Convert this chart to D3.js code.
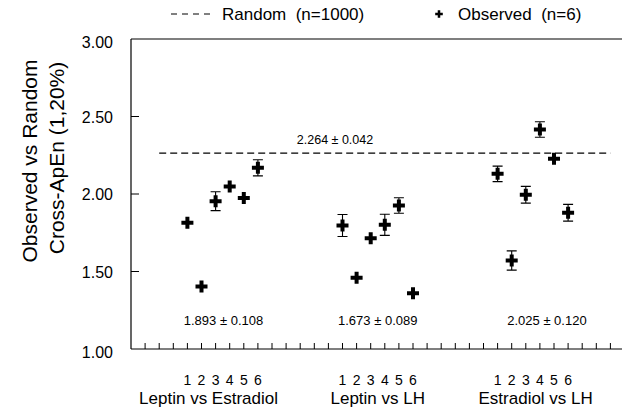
<!DOCTYPE html>
<html>
<head>
<meta charset="utf-8">
<script src="https://cdn.jsdelivr.net/npm/d3@7"></script>
<style>
  body { margin: 0; background: #fff; }
  text { font-family: "Liberation Sans", Arial, sans-serif; fill: #000; }
</style>
</head>
<body>
<div id="chart"></div>
<script>
// comparisons and subject numbers
var groups = ['Leptin vs Estradiol', 'Leptin vs LH', 'Estradiol vs LH'];
var subjects = ['1', '2', '3', '4', '5', '6'];
var groupStart = [4, 15, 26];

// observed cross-ApEn per subject, and its sd (0 = hidden under the marker)
var observed = [
  [1.814, 1.403, 1.954, 2.048, 1.975, 2.169],
  [1.797, 1.459, 1.715, 1.801, 1.926, 1.360],
  [2.130, 1.571, 1.995, 2.416, 2.227, 1.879]
];
var observedErr = [
  [0, 0, 0.061, 0, 0, 0.052],
  [0.071, 0, 0, 0.068, 0.05, 0],
  [0.05, 0.062, 0.054, 0.05, 0, 0.054]
];
var groupMeans = ['1.893 \u00b1 0.108', '1.673 \u00b1 0.089', '2.025 \u00b1 0.120'];

var randomMean = 2.264;
var randomLabel = '2.264 \u00b1 0.042';

var yTicks = [1.00, 1.50, 2.00, 2.50, 3.00];

var width = 622, height = 408;

var svg = d3.select('#chart')
  .append('svg')
  .attr('width', width)
  .attr('height', height);

var x = d3.scaleLinear().domain([0, 35]).range([131, 624.5]);
var y = d3.scaleLinear().domain([1, 3]).range([349, 39]);

// frame: left axis, top border, bottom axis
svg.append('line')
  .attr('x1', x(0)).attr('x2', x(0))
  .attr('y1', y(3)).attr('y2', y(1))
  .attr('stroke', '#000').attr('stroke-width', 1.2);
svg.append('line')
  .attr('x1', x(0)).attr('x2', width)
  .attr('y1', y(3)).attr('y2', y(3))
  .attr('stroke', '#000').attr('stroke-width', 1.2);
svg.append('line')
  .attr('x1', x(0)).attr('x2', width)
  .attr('y1', y(1)).attr('y2', y(1))
  .attr('stroke', '#000').attr('stroke-width', 1.2);

// y ticks (inward) and labels
svg.selectAll('.ytick')
  .data(yTicks.filter(function (d) { return d > 1 && d < 3; }))
  .enter()
  .append('line')
  .attr('x1', x(0)).attr('x2', x(0) + 8)
  .attr('y1', function (d) { return y(d); })
  .attr('y2', function (d) { return y(d); })
  .attr('stroke', '#000');

svg.selectAll('.ylab')
  .data(yTicks)
  .enter()
  .append('text')
  .attr('x', 113)
  .attr('y', function (d) { return y(d) + 6 + (d == 1 || d == 3 ? 3 : 0); })
  .attr('text-anchor', 'end')
  .style('font-size', '16px')
  .text(function (d) { return d3.format('.2f')(d); });

// x ticks along the bottom
svg.selectAll('.xtick')
  .data(d3.range(1, 35))
  .enter()
  .append('line')
  .attr('x1', function (d) { return x(d); })
  .attr('x2', function (d) { return x(d); })
  .attr('y1', y(1)).attr('y2', y(1) - 6)
  .attr('stroke', '#000');

// y title
var yTitle = svg.append('g').attr('transform', 'rotate(-90)');
yTitle.append('text')
  .attr('x', -161).attr('y', 37)
  .attr('text-anchor', 'middle')
  .style('font-size', '21px')
  .text('Observed vs Random');
yTitle.append('text')
  .attr('x', -158).attr('y', 64)
  .attr('text-anchor', 'middle')
  .style('font-size', '21px')
  .text('Cross-ApEn (1,20%)');

// random reference line
svg.append('line')
  .attr('x1', x(2)).attr('x2', x(34))
  .attr('y1', y(randomMean)).attr('y2', y(randomMean))
  .attr('stroke', '#000')
  .attr('stroke-width', 1.2)
  .attr('stroke-dasharray', '7,4');
svg.append('text')
  .attr('x', 335).attr('y', y(randomMean) - 9)
  .attr('text-anchor', 'middle')
  .style('font-size', '12.5px')
  .text(randomLabel);

// observed points
var cross = d3.symbol().type(d3.symbolCross).size(80);
var labelShift = [-1, 0, 0.2];
var meanShift = [0.06, 0, 1];

groups.forEach(function (name, gi) {
  var g = svg.append('g');
  var pts = observed[gi].map(function (v, i) {
    return { pos: groupStart[gi] + i, value: v, err: observedErr[gi][i] };
  });

  var bars = pts.filter(function (d) { return d.err > 0; });
  g.selectAll('.bar')
    .data(bars)
    .enter()
    .append('path')
    .attr('d', function (d) {
      var cx = x(d.pos), top = y(d.value + d.err), bot = y(d.value - d.err);
      return 'M' + (cx - 5) + ',' + top + 'H' + (cx + 5) +
        'M' + cx + ',' + top + 'V' + bot +
        'M' + (cx - 5) + ',' + bot + 'H' + (cx + 5);
    })
    .attr('fill', 'none')
    .attr('stroke', '#000')
    .attr('stroke-width', 1.1);

  g.selectAll('.pt')
    .data(pts)
    .enter()
    .append('path')
    .attr('d', cross)
    .attr('transform', function (d) { return 'translate(' + x(d.pos) + ',' + y(d.value) + ')'; })
    .attr('fill', '#000');

  g.selectAll('.num')
    .data(subjects)
    .enter()
    .append('text')
    .attr('x', function (d, i) { return x(groupStart[gi] + i); })
    .attr('y', 385)
    .attr('text-anchor', 'middle')
    .style('font-size', '14px')
    .text(function (d) { return d; });

  var mid = groupStart[gi] + 2.5;
  g.append('text')
    .attr('x', x(mid + labelShift[gi]))
    .attr('y', 404)
    .attr('text-anchor', 'middle')
    .style('font-size', '17px')
    .text(name);

  g.append('text')
    .attr('x', x(mid + meanShift[gi]))
    .attr('y', 325)
    .attr('text-anchor', 'middle')
    .style('font-size', '13px')
    .text(groupMeans[gi]);
});

// legend
var legend = svg.append('g');
legend.append('line')
  .attr('x1', 171).attr('x2', 213)
  .attr('y1', 14).attr('y2', 14)
  .attr('stroke', '#000')
  .attr('stroke-dasharray', '6,5');
legend.append('text')
  .attr('x', 222).attr('y', 20)
  .attr('xml:space', 'preserve')
  .style('font-size', '17px')
  .style('white-space', 'pre')
  .text('Random  (n=1000)');
legend.append('path')
  .attr('d', d3.symbol().type(d3.symbolCross).size(32))
  .attr('transform', 'translate(439,14)')
  .attr('fill', '#000');
legend.append('text')
  .attr('x', 458).attr('y', 20)
  .attr('xml:space', 'preserve')
  .style('font-size', '17px')
  .style('white-space', 'pre')
  .text('Observed  (n=6)');
</script>
</body>
</html>
